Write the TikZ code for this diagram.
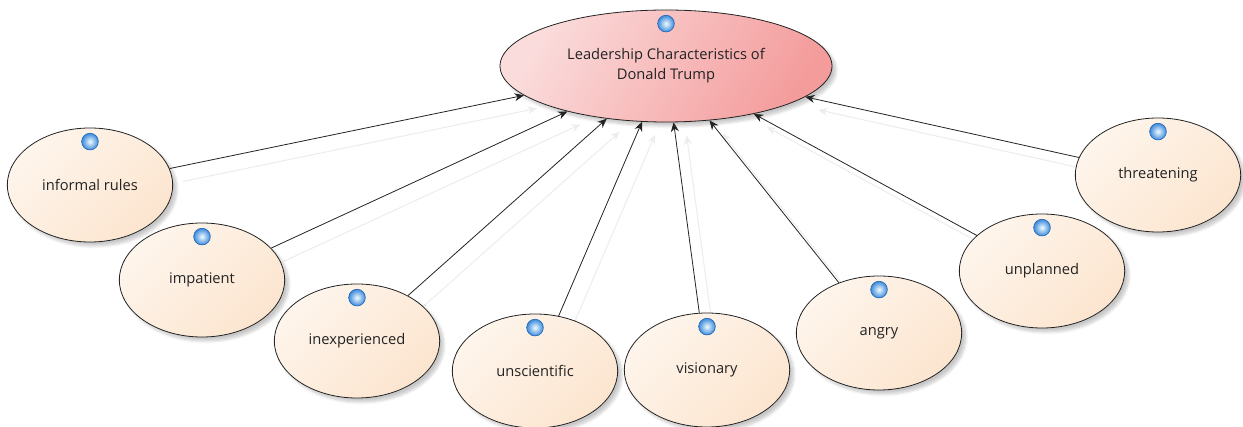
\documentclass[tikz,border=0pt]{standalone}
\usepackage{fontspec}
\setmainfont{Open Sans}
\usetikzlibrary{arrows.meta,shapes.geometric,shadows.blur,calc}
\pgfdeclarelayer{background}
\pgfsetlayers{background,main}
\definecolor{peachA}{RGB}{254,245,236}
\definecolor{peachB}{RGB}{252,229,207}
\definecolor{pinkA}{RGB}{251,220,220}
\definecolor{pinkB}{RGB}{244,156,156}
\definecolor{dotrim}{RGB}{40,125,215}
\definecolor{dotcore}{RGB}{240,252,255}
\definecolor{ink}{RGB}{35,35,35}
\begin{document}
\begin{tikzpicture}[x=0.75pt,y=-0.75pt,
  blob/.style={ellipse, draw=ink, line width=0.6pt, inner sep=0pt,
    blur shadow={shadow xshift=3pt, shadow yshift=-3pt, shadow opacity=22, shadow blur steps=8},
    text=ink, font=\fontsize{11}{15}\selectfont},
  trait/.style={blob, minimum width=124pt, minimum height=85.5pt,
    top color=peachA, bottom color=peachB, shading angle=45},
  core/.style={blob, minimum width=249pt, minimum height=84pt, align=center,
    top color=pinkA, bottom color=pinkB, shading angle=60},
  bead/.style={circle, inner sep=0pt, minimum size=12.5pt, draw=dotrim!85!black, line width=0.5pt,
    inner color=dotcore, outer color=dotrim!90},
  link/.style={draw=ink, line width=0.6pt, -{Stealth[length=7pt,width=6pt]}},
  ghost/.style={draw=black!7, line width=0.8pt, -{Stealth[length=7pt,width=6pt]},
    transform canvas={shift={(9.75pt,-9.75pt)}}}
]
\useasboundingbox (0,0) rectangle (1243,427);

% central concept
\node[core] (c) at (666,66) {Leadership Characteristics of\\Donald Trump};

% characteristics
\node[trait] (n1) at (90,185)   {informal rules};
\node[trait] (n2) at (202,280)  {impatient};
\node[trait] (n3) at (357,341)  {inexperienced};
\node[trait] (n4) at (535,371)  {unscientific};
\node[trait] (n5) at (707,370)  {visionary};
\node[trait] (n6) at (879,333)  {angry};
\node[trait] (n7) at (1042,271) {unplanned};
\node[trait] (n8) at (1158,175) {threatening};

% status beads near the top of each ellipse
\foreach \n in {c,n1,n2,n3,n4,n5,n6,n7,n8}
  \node[bead] (\n-bead) at ($(\n.north)+(0,14)$) {};

% connector shadows
\begin{pgfonlayer}{background}
\foreach \n in {n1,n2,n3,n4,n5,n6,n7,n8}
  \draw[ghost] (\n) -- (c);
\end{pgfonlayer}

% connectors
\foreach \n in {n1,n2,n3,n4,n5,n6,n7,n8}
  \draw[link] (\n) -- (c);
\end{tikzpicture}
\end{document}
